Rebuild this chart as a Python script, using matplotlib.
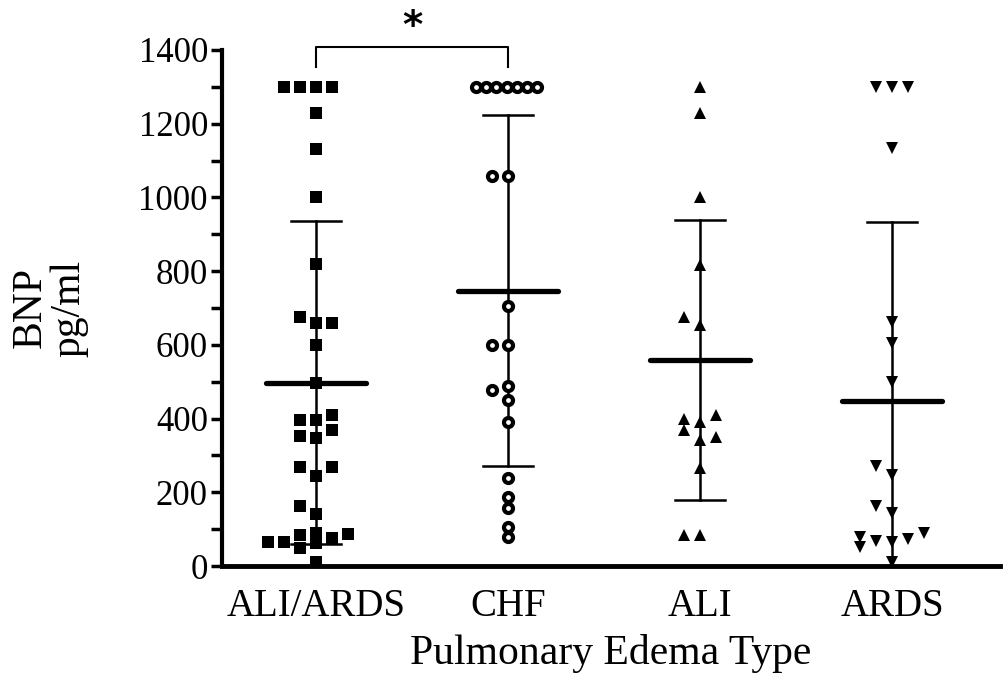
import matplotlib
matplotlib.use('Agg')
import matplotlib.pyplot as plt
import numpy as np

plt.rcParams['font.family'] = ['Liberation Serif', 'DejaVu Serif']

categories = ['ALI/ARDS', 'CHF', 'ALI', 'ARDS']

# BNP values (pg/ml), 1300 = upper limit of assay
ali_ards = [1300, 1300, 1300, 1300, 1229, 1131, 1001, 819,
            659, 675, 659, 600, 497,
            396, 395, 410, 347, 370, 353,
            244, 269, 269, 141, 163,
            62, 84, 76, 65, 87, 90, 65, 49, 11]
chf = [1300, 1300, 1300, 1300, 1300, 1300, 1300, 1058, 1058,
       705, 600, 600, 450, 488, 477, 391,
       239, 187, 157, 106, 79]
ali = [1300, 1229, 1001, 817, 654, 676,
       391, 398, 410, 369, 342, 350, 266, 84, 84]
ards = [1300, 1300, 1300, 1134, 662, 605, 499,
        247, 271, 144, 163, 65, 68, 73, 79, 52, 90, 11]

groups = [ali_ards, chf, ali, ards]
markers = ['s', 'o', '^', 'v']


def swarm(vals, xc, ax, step=16, ygap=9.5, maxhalf=32):
    # simple beeswarm in pixel space, returns x positions in data units
    tr = ax.transData
    pts = tr.transform(np.column_stack([np.full(len(vals), xc), vals]))
    ypix = pts[:, 1]
    placed = []
    offs = []
    cand = [0]
    for i in range(1, 10):
        cand += [-i, i]
    for y in ypix:
        for c in cand:
            dx = c * step
            hit = any(abs(dx - px) < step - 1 and abs(y - py) < ygap for px, py in placed)
            if not hit:
                break
        placed.append((dx, y))
        offs.append(dx)
    offs = np.array(offs, dtype=float)
    # squeeze long tied rows into the available width
    vals = np.array(vals)
    for v in np.unique(vals):
        idx = np.where(vals == v)[0]
        if len(idx) > 4:
            offs[idx] = np.linspace(-maxhalf, maxhalf * 0.9, len(idx))
    pxunit = tr.transform((1, 0))[0] - tr.transform((0, 0))[0]
    return xc + offs / pxunit


fig = plt.figure(figsize=(10.04, 6.84), dpi=100)
ax = fig.add_axes([0.221, 0.1725, 0.775, 0.7545])
ax.set_xlim(-0.49, 3.56)
ax.set_ylim(0, 1400)

for i, (vals, m) in enumerate(zip(groups, markers)):
    xs = swarm(vals, i, ax)
    if m == 'o':
        ax.plot(xs, vals, 'o', ms=6.5, mfc='white', mec='black', mew=3, clip_on=False, zorder=3)
    else:
        ax.plot(xs, vals, m, ms=8, color='black', mew=0, clip_on=False, zorder=3)
    mean = np.mean(vals)
    sd = np.std(vals, ddof=1)
    ax.plot([i, i], [mean - sd, mean + sd], color='black', lw=1.8, zorder=2)
    ax.plot([i - 0.13, i + 0.13], [mean + sd] * 2, color='black', lw=1.8)
    ax.plot([i - 0.13, i + 0.13], [mean - sd] * 2, color='black', lw=1.8)
    ax.plot([i - 0.26, i + 0.26], [mean, mean], color='black', lw=3.8,
            solid_capstyle='round', zorder=4)

# significance bracket ALI/ARDS vs CHF
ax.plot([0, 0, 1, 1], [1354, 1408, 1408, 1354], color='black', lw=1.5, clip_on=False)
ax.text(0.5, 1462, '*', ha='center', va='center', fontsize=28, fontweight='bold',
        family='DejaVu Sans')

ax.spines['top'].set_visible(False)
ax.spines['right'].set_visible(False)
ax.spines['left'].set_linewidth(3)
ax.spines['bottom'].set_linewidth(3.5)
ax.set_yticks(np.arange(0, 1401, 200))
ax.set_yticks(np.arange(100, 1400, 200), minor=True)
ax.tick_params(axis='y', which='both', length=8, width=2.5, labelsize=25, pad=2)
ax.set_xticks(range(4))
ax.set_xticklabels(categories)
ax.tick_params(axis='x', length=0, labelsize=28, pad=16)
ax.set_xlabel('Pulmonary Edema Type', fontsize=30, labelpad=6)
ax.set_ylabel('BNP\npg/ml', fontsize=30, labelpad=36, linespacing=1.0)

fig.savefig('out.png', dpi=100)
